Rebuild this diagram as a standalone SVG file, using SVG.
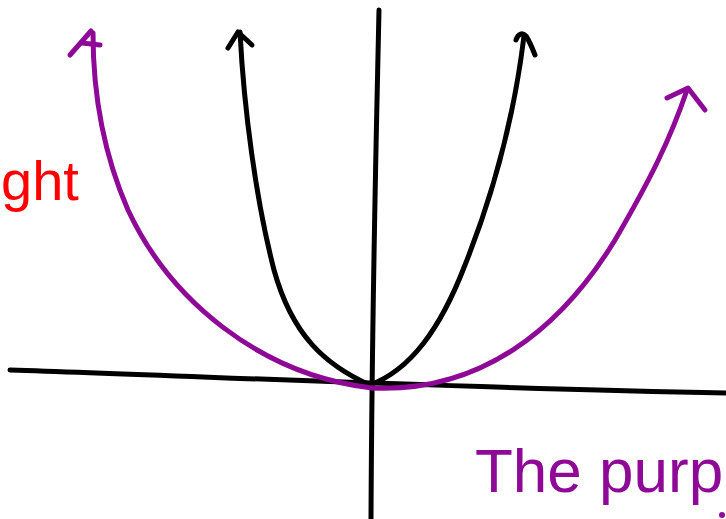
<svg xmlns="http://www.w3.org/2000/svg" width="726" height="519" viewBox="0 0 726 519">
<style>
.k{fill:none;stroke:#000;stroke-width:5;stroke-linecap:round;stroke-linejoin:round}
.p{fill:none;stroke:#8e0a96;stroke-width:5;stroke-linecap:round;stroke-linejoin:round}
.t{font-family:"Liberation Sans",Arial,sans-serif}
</style>
<rect width="726" height="519" fill="#fff"/>
<g id="axes">
<path class="k" d="M379,10 C376,150 372,300 371,519"/>
<path class="k" d="M10,370 C200,376 450,388 726,393"/>
</g>
<g id="black-parabola">
<path class="k" d="M370,385 C325,365 292,335 274,270 C256,200 244,110 240,32"/>
<path class="k" d="M228,48 L238,32 L252,45"/>
<path class="k" d="M370,385 C410,370 440,330 465,265 C495,190 515,110 524,36"/>
<path class="k" d="M516,40 C518,34 522,32 526,36 C530,42 533,50 535,55"/>
</g>
<g id="purple-parabola">
<path class="p" d="M372,388 C260,375 170,300 128,210 C104,155 93,95 93,33"/>
<path class="p" d="M70,55 L91,31"/>
<path class="p" d="M82,43 L100,45"/>
<path class="p" d="M372,388 C480,393 560,330 615,240 C650,180 670,140 687,90"/>
<path class="p" d="M667,98 L688,88 L705,110"/>
</g>
<g id="labels">
<text class="t" x="1" y="200" font-size="56" fill="#f00">ght</text>
<text class="t" x="475" y="492" font-size="62" fill="#8e0a96">The purp</text>
<circle cx="722" cy="515" r="3" fill="#8e0a96"/>
</g>
</svg>
